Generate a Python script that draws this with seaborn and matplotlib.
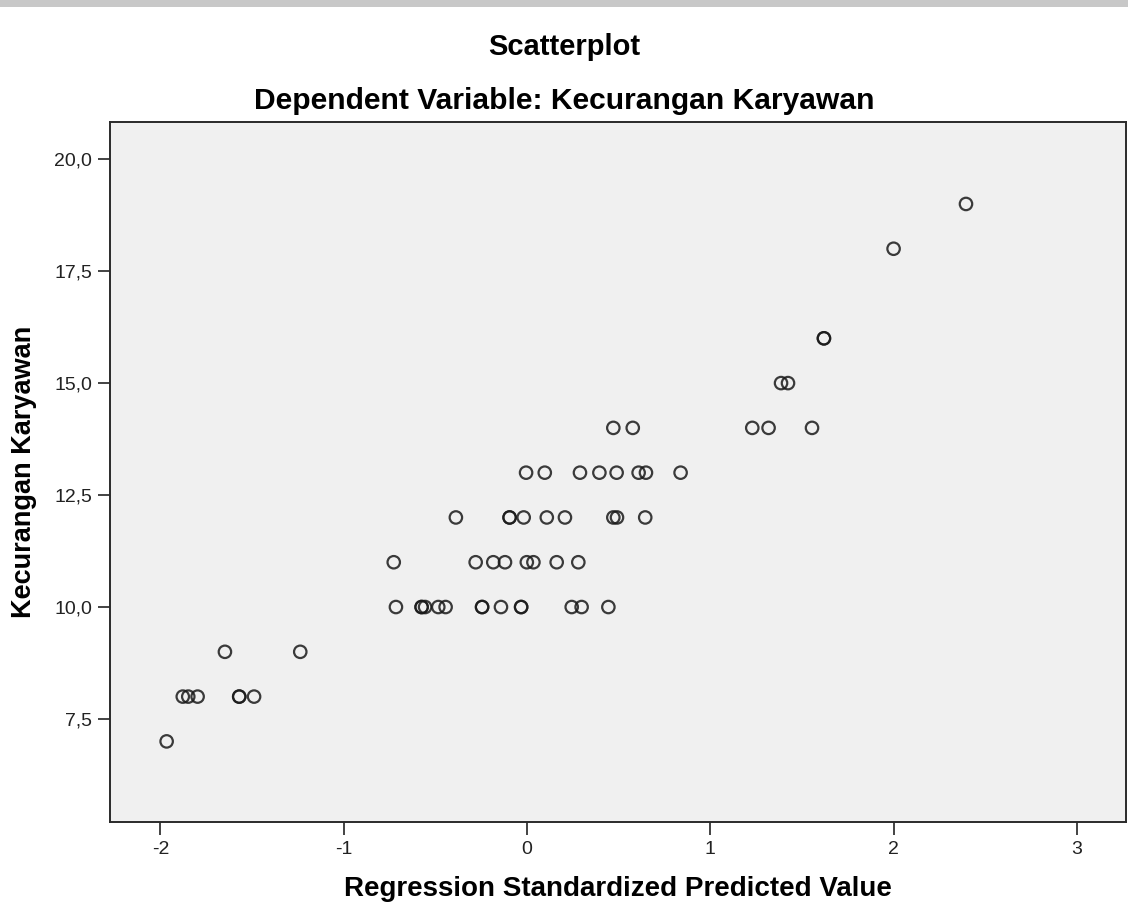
import matplotlib
matplotlib.use("Agg")
import matplotlib.pyplot as plt
import seaborn as sns
import pandas as pd
from matplotlib.patches import Rectangle

# ---- data ----
pred_19 = [2.395]
pred_18 = [2.000]
pred_16 = [1.620, 1.620]
pred_15 = [1.386, 1.424]
pred_14 = [0.471, 0.577, 1.229, 1.318, 1.555]
pred_13 = [-0.005, 0.097, 0.289, 0.395, 0.489, 0.609, 0.649, 0.838]
pred_12 = [-0.388, -0.095, -0.095, -0.018, 0.108, 0.207, 0.471, 0.491, 0.645]
pred_11 = [-0.727, -0.280, -0.184, -0.120, -0.001, 0.035, 0.162, 0.280]
pred_10 = [-0.715, -0.575, -0.575, -0.556, -0.484, -0.444, -0.245, -0.245,
           -0.142, -0.032, -0.032, 0.244, 0.298, 0.444]
pred_9 = [-1.648, -1.237]
pred_8 = [-1.878, -1.848, -1.797, -1.570, -1.570, -1.489]
pred_7 = [-1.966]

groups = {19: pred_19, 18: pred_18, 16: pred_16, 15: pred_15, 14: pred_14,
          13: pred_13, 12: pred_12, 11: pred_11, 10: pred_10, 9: pred_9,
          8: pred_8, 7: pred_7}

x_ticks = [-2, -1, 0, 1, 2, 3]
y_ticks = [7.5, 10.0, 12.5, 15.0, 17.5, 20.0]
y_ticklabels = ["7,5", "10,0", "12,5", "15,0", "17,5", "20,0"]

title = "Scatterplot"
subtitle = "Dependent Variable: Kecurangan Karyawan"
xlabel = "Regression Standardized Predicted Value"
ylabel = "Kecurangan Karyawan"

rows = []
for yv, xs in groups.items():
    for xv in xs:
        rows.append((xv, yv))
df = pd.DataFrame(rows, columns=["pred", "dep"])

sns.set_style("white")
plt.rcParams["font.family"] = ["Liberation Sans", "DejaVu Sans"]
plt.rcParams["text.color"] = "black"
plt.rcParams["axes.labelcolor"] = "black"

fig = plt.figure(figsize=(11.28, 9.10), dpi=100)
ax = fig.add_axes([110 / 1128, 1 - 822 / 910, (1126 - 110) / 1128, (822 - 122) / 910])
ax.set_facecolor("#F0F0F0")

sns.scatterplot(data=df, x="pred", y="dep", ax=ax, marker="o", s=80,
                facecolors="none", edgecolor="#1a1a1a", linewidth=1.6,
                alpha=0.85, legend=False)

ax.set_xlim(-2.275, 3.268)
ax.set_ylim(5.20, 20.83)
ax.set_xticks(x_ticks)
ax.set_xticklabels([str(t) for t in x_ticks])
ax.set_yticks(y_ticks)
ax.set_yticklabels(y_ticklabels)
ax.tick_params(axis="both", which="major", bottom=True, left=True,
               direction="out", length=9, width=1.2,
               color="#222222", labelsize=14, labelcolor="#222222", pad=4)
ax.tick_params(axis="x", pad=5)

for sp in ax.spines.values():
    sp.set_visible(True)
    sp.set_color("#2a2a2a")
    sp.set_linewidth(1.4)

ax.set_xlabel(xlabel, fontsize=20, fontweight="bold", labelpad=13)
ax.set_ylabel(ylabel, fontsize=19.5, fontweight="bold", labelpad=12)

fig.text(0.5, 1 - 47 / 910, title, ha="center", va="center",
         fontsize=21, fontweight="bold")
fig.text(0.5, 1 - 101 / 910, subtitle, ha="center", va="center",
         fontsize=21.6, fontweight="bold")

# grey band at the top of the page
fig.patches.append(Rectangle((0, 1 - 7 / 910), 1, 7 / 910, transform=fig.transFigure,
                             facecolor="#C8C8C8", edgecolor="none", zorder=0))

fig.savefig("out.png", dpi=100)
